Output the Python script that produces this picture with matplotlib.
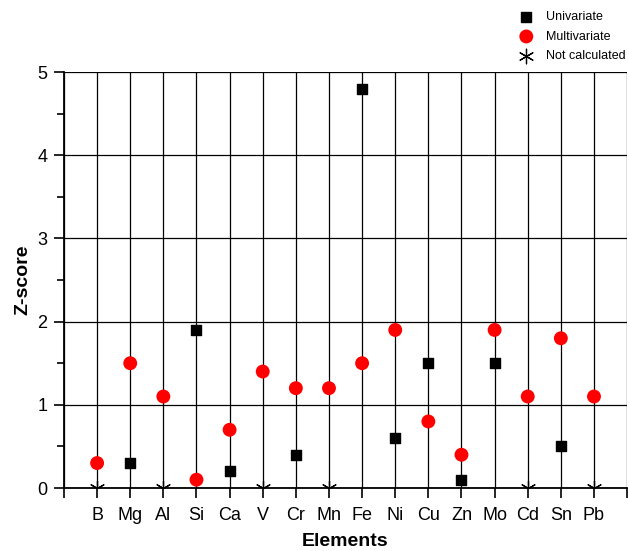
import numpy as np
import matplotlib
matplotlib.use("Agg")
import matplotlib.pyplot as plt

plt.rcParams['font.family'] = ['Liberation Sans', 'DejaVu Sans']

elements = ["B", "Mg", "Al", "Si", "Ca", "V", "Cr", "Mn", "Fe", "Ni", "Cu", "Zn", "Mo", "Cd", "Sn", "Pb"]
univariate = [np.nan, 0.3, np.nan, 1.9, 0.2, np.nan, 0.4, np.nan, 4.8, 0.6, 1.5, 0.1, 1.5, np.nan, 0.5, np.nan]
multivariate = [0.3, 1.5, 1.1, 0.1, 0.7, 1.4, 1.2, 1.2, 1.5, 1.9, 0.8, 0.4, 1.9, 1.1, 1.8, 1.1]
not_calculated = ["B", "Al", "V", "Mn", "Cd", "Pb"]
nc_values = [0, 0, 0, 0, 0, 0]

fig = plt.figure(figsize=(6.29, 5.51), dpi=100)
ax = fig.add_axes([0.1017, 0.1143, 0.8953, 0.755])

x = np.arange(1, len(elements) + 1)
nc_x = [elements.index(e) + 1 for e in not_calculated]

ax.set_xlim(0, 17)
ax.set_ylim(0, 5)

ax.set_xticks(np.arange(0, 18))
ax.set_yticks(np.arange(0, 6))
ax.set_yticks(np.arange(0.5, 5, 1), minor=True)
ax.grid(True, which='major', color='black', linewidth=0.9, zorder=0)
ax.set_axisbelow(True)

for s in ['top', 'right']:
    ax.spines[s].set_visible(False)
ax.spines['left'].set_linewidth(1.3)
ax.spines['bottom'].set_linewidth(1.3)

h1 = ax.scatter(x, univariate, marker='s', s=55, color='black', zorder=3, label='Univariate')
h2 = ax.scatter(x, multivariate, marker='o', s=100, color='red', edgecolors='none', zorder=4, label='Multivariate')
h3 = ax.scatter(nc_x, nc_values, marker=(6, 2, 0), s=110, color='black', linewidths=0.9, zorder=3, label='Not calculated')

labels_x = [''] + elements + ['']
ax.set_xticklabels(labels_x, fontsize=13)
ax.tick_params(axis='x', direction='out', length=7, width=1.2, pad=7)
ax.tick_params(axis='y', which='major', direction='out', length=7, width=1.2, labelsize=13, pad=5)
ax.tick_params(axis='y', which='minor', direction='out', length=5, width=1.2)
ax.set_xlabel('Elements', fontsize=14, fontweight='bold', labelpad=6)
ax.set_ylabel('Z-score', fontsize=14, fontweight='bold', labelpad=4)

fig.legend(handles=[h1, h2, h3], loc='upper right', bbox_to_anchor=(1.013, 1.0),
           frameon=False, fontsize=9, handletextpad=0.6, labelspacing=0.6,
           borderaxespad=0.5, scatterpoints=1)

fig.savefig('out.png', dpi=100)
